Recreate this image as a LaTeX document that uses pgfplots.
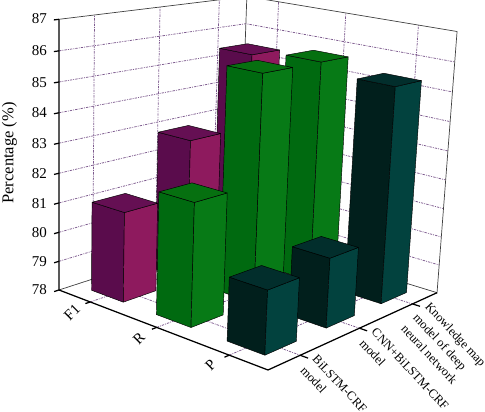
\documentclass[border=0pt]{standalone}
\usepackage{pgfplots}
\pgfplotsset{compat=1.18}
\usepackage{fontspec}
\setmainfont{Liberation Serif}
\definecolor{pL}{HTML}{5A0C4C}\definecolor{pR}{HTML}{8E1A5E}\definecolor{pT}{HTML}{650F53}
\definecolor{gL}{HTML}{006A10}\definecolor{gR}{HTML}{077A16}\definecolor{gT}{HTML}{067010}
\definecolor{tL}{HTML}{011F1C}\definecolor{tR}{HTML}{02423E}\definecolor{tT}{HTML}{022E2C}
\definecolor{gridc}{HTML}{7D5A8E}
% a: metric position (F1, R, P at 0.5, 1.5, 2.5), b: model position (0.5, 1.5, 2.5), z: percentage
% table/proj is the viewing projection of the 3-D chart onto the page
\newcommand\PW{(1-0.040667*\thisrow{a}+0.052*\thisrow{b}-0.052*(\thisrow{z}-78)/9)}
\pgfplotsset{table/proj/.style={row sep=\\,
  x expr={(59+58.767*\thisrow{a}+72.2*\thisrow{b}-3.07*(\thisrow{z}-78)/9)/\PW},
  y expr={412-(290+11.62*\thisrow{a}-7.4*\thisrow{b}-271.7*(\thisrow{z}-78)/9)/\PW}}}
% #1 a0, #2 a1, #3 b0, #4 b1, #5 value, #6..#8 colours of the side, front and top
\newcommand\threedbar[8]{%
  \addplot[draw=black,line width=0.45pt,line join=round,fill=#6] table[proj]{a b z\\ #1 #3 78\\ #2 #3 78\\ #2 #3 #5\\ #1 #3 #5\\ #1 #3 78\\};
  \addplot[draw=black,line width=0.45pt,line join=round,fill=#7] table[proj]{a b z\\ #2 #3 78\\ #2 #4 78\\ #2 #4 #5\\ #2 #3 #5\\ #2 #3 78\\};
  \addplot[draw=black,line width=0.45pt,line join=round,fill=#8] table[proj]{a b z\\ #1 #3 #5\\ #2 #3 #5\\ #2 #4 #5\\ #1 #4 #5\\ #1 #3 #5\\};
}
\tikzset{gl/.style={draw=gridc,line width=0.75pt,dash pattern=on 2.4pt off 1.1pt on 0.9pt off 1.1pt}}
\begin{document}
\begin{tikzpicture}
\useasboundingbox (0,0) rectangle (485pt,412pt);
\begin{axis}[at={(0,0)},anchor=south west,width=485pt,height=412pt,scale only axis,
  hide axis,clip=false,xmin=0,xmax=485,ymin=0,ymax=412]
% wall grid
\pgfplotsinvokeforeach{79,80,81,82,83,84,85,86}{
  \addplot[gl] table[proj]{a b z\\ 0 0 #1\\ 0 3 #1\\ 3 3 #1\\};
}
\pgfplotsinvokeforeach{0.5,1.5,2.5}{
  \addplot[gl] table[proj]{a b z\\ 0 #1 78\\ 0 #1 87\\};
  \addplot[gl] table[proj]{a b z\\ #1 3 78\\ #1 3 87\\};
  \addplot[gl] table[proj]{a b z\\ 0 #1 78\\ 3 #1 78\\};
  \addplot[gl] table[proj]{a b z\\ #1 0 78\\ #1 3 78\\};
}
% box
\addplot[black!75,line width=0.7pt] table[proj]{a b z\\ 0 0 87\\ 0 3 87\\ 3 3 87\\ 3 3 78\\ 0 3 78\\ 0 0 78\\};
\addplot[black!75,line width=0.7pt] table[proj]{a b z\\ 0 3 78\\ 0 3 87\\};
% bars, back to front
\threedbar{0.25}{0.75}{2.25}{2.75}{85.45}{pL}{pR}{pT}
\threedbar{1.25}{1.75}{2.25}{2.75}{85.67}{gL}{gR}{gT}
\threedbar{2.25}{2.75}{2.25}{2.75}{85.35}{tL}{tR}{tT}
\threedbar{0.25}{0.75}{1.25}{1.75}{82.90}{pL}{pR}{pT}
\threedbar{1.25}{1.75}{1.25}{1.75}{85.67}{gL}{gR}{gT}
\threedbar{2.25}{2.75}{1.25}{1.75}{80.32}{tL}{tR}{tT}
\threedbar{0.25}{0.75}{0.25}{0.75}{81.04}{pL}{pR}{pT}
\threedbar{1.25}{1.75}{0.25}{0.75}{82.06}{gL}{gR}{gT}
\threedbar{2.25}{2.75}{0.25}{0.75}{80.06}{tL}{tR}{tT}
% axes
\addplot[black,line width=1.25pt,line join=miter] table[proj]{a b z\\ 0 0 87\\ 0 0 78\\ 3 0 78\\ 3 3 78\\};
\pgfplotsinvokeforeach{78,79,80,81,82,83,84,85,86,87}{
  \addplot[black,line width=1.25pt] table[proj]{a b z\\ 0 0 #1\\ 0 -0.07 #1\\};
}
\pgfplotsinvokeforeach{0.5,1.5,2.5}{
  \addplot[black,line width=1.25pt] table[proj]{a b z\\ #1 0 78\\ #1 -0.07 78\\};
  \addplot[black,line width=1.25pt] table[proj]{a b z\\ 3 #1 78\\ 3.1 #1 78\\};
}
% labels
\begin{scope}[every node/.style={font=\fontsize{15}{16}\selectfont,inner sep=0pt}]
\node[anchor=east] at (axis cs:47,393) {87};
\node[anchor=east] at (axis cs:47,361) {86};
\node[anchor=east] at (axis cs:47,329.5) {85};
\node[anchor=east] at (axis cs:47,299) {84};
\node[anchor=east] at (axis cs:47,268) {83};
\node[anchor=east] at (axis cs:47,238) {82};
\node[anchor=east] at (axis cs:47,208) {81};
\node[anchor=east] at (axis cs:47,179.5) {80};
\node[anchor=east] at (axis cs:47,150.5) {79};
\node[anchor=east] at (axis cs:47,122) {78};
\node[rotate=45] at (axis cs:72,99.5) {F1};
\node[rotate=45] at (axis cs:139,74) {R};
\node[rotate=45] at (axis cs:210.7,46.5) {P};
\node[rotate=90,font=\fontsize{16.5}{18}\selectfont] at (axis cs:9.5,259) {Percentage (\%)};
\end{scope}
\begin{scope}[every node/.style={font=\fontsize{12.5}{16.5}\selectfont,inner sep=0pt,align=left,rotate=-47,anchor=north west}]
\node at (axis cs:318,58) {BiLSTM-CRF\\model};
\node at (axis cs:377,85) {CNN+BiLSTM-CRF\\model};
\node at (axis cs:431,111) {Knowledge map\\model of deep\\neural network};
\end{scope}
\end{axis}
\end{tikzpicture}
\end{document}
